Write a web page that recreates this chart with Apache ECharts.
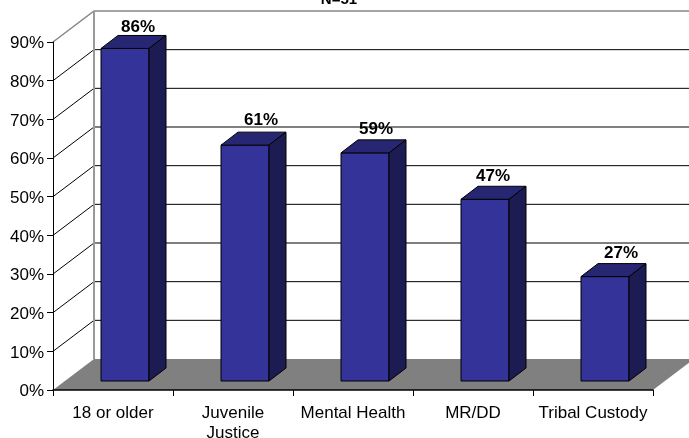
<!DOCTYPE html>
<html><head><meta charset="utf-8">
<style>html,body{margin:0;padding:0;background:#fff}#c{width:689px;height:438px}</style>
<script src="https://cdn.jsdelivr.net/npm/echarts@6/dist/echarts.min.js"></script>
</head><body><div id="c"></div>
<script>
const categories = ['18 or older', 'Juvenile\nJustice', 'Mental Health', 'MR/DD', 'Tribal Custody'];
const values = [86, 61, 59, 47, 27];
const tickValues = [0, 10, 20, 30, 40, 50, 60, 70, 80, 90];
const titleText = 'N=51';
// hand-placed data label nudges in the source chart, [dx, dy] px from the bar's front-top centre
const labelNudge = [[13, -30], [16, -34], [11, -33], [8, -32], [16, -32]];

const FONT = '"Liberation Sans", Arial, sans-serif';
const WALL = [41, -31];          // wall depth, px
const BAR_FRONT = [12, -9];      // bar front face, offset from the front plane
const BAR_DEPTH = [17, -13];     // bar depth
const BAR_RATIO = 0.4;

function poly(pts, style) {
  return { type: 'polygon', shape: { points: pts }, style };
}
function line(pts, stroke, w) {
  return { type: 'polyline', shape: { points: pts }, style: { stroke, lineWidth: w, fill: null } };
}

function renderWall(params, api) {
  const v = api.value(0);
  const band = api.size([1, 0])[0];
  const a = api.coord([0, v]);
  const b = api.coord([categories.length - 1, v]);
  const x0 = a[0] - band / 2, x1 = b[0] + band / 2, y = a[1];
  const children = [];
  const isTop = v === tickValues[tickValues.length - 1];
  const isFloor = v === 0;
  const color = isTop ? '#868686' : '#000';
  const w = isTop ? 1.5 : 1;
  if (isFloor) {
    children.push(poly([[x0, y], [x0 + WALL[0], y + WALL[1]], [x1 + WALL[0], y + WALL[1]], [x1, y]],
      { fill: '#808080', stroke: null }));
  } else {
    children.push(line([[x0, y], [x0 + WALL[0], y + WALL[1]], [x1 + WALL[0], y + WALL[1]]], color, w));
  }
  if (isTop) {
    const f = api.coord([0, 0]);
    children.push(line([[x0 + WALL[0], y + WALL[1]], [x0 + WALL[0], f[1] + WALL[1]]], '#999', 2));
  }
  return { type: 'group', children };
}

function renderBar(params, api) {
  const i = api.value(0), v = api.value(1);
  const band = api.size([1, 0])[0];
  const w = band * BAR_RATIO;
  const top = api.coord([i, v]), base = api.coord([i, 0]);
  const cx = top[0] + BAR_FRONT[0];
  const xl = cx - w / 2, xr = xl + w;
  const yt = top[1] + BAR_FRONT[1], yb = base[1] + BAR_FRONT[1];
  const dx = BAR_DEPTH[0], dy = BAR_DEPTH[1];
  const border = { stroke: '#000', lineWidth: 1, lineJoin: 'round' };
  const n = labelNudge[i];
  return { type: 'group', children: [
    poly([[xl, yt], [xl, yb], [xr, yb], [xr, yt]], { fill: '#333399', ...border }),
    poly([[xl, yt], [xl + dx, yt + dy], [xr + dx, yt + dy], [xr, yt]], { fill: '#262673', ...border }),
    poly([[xr, yt], [xr + dx, yt + dy], [xr + dx, yb + dy], [xr, yb]], { fill: '#1c1c52', ...border }),
    { type: 'text', style: { text: v + '%', x: cx + n[0], y: top[1] + n[1], align: 'center',
      verticalAlign: 'middle', fill: '#000', font: 'bold 17px ' + FONT } }
  ] };
}

const chart = echarts.init(document.getElementById('c'), null, { renderer: 'canvas' });
chart.setOption({
  animation: false,
  backgroundColor: '#fff',
  title: { text: titleText, left: 339, top: -7.5, textAlign: 'center', padding: 0,
    textStyle: { fontFamily: FONT, fontSize: 15, fontWeight: 'bold', color: '#000' } },
  grid: { left: 53, right: 36, top: 42, bottom: 48, outerBoundsMode: 'none', containLabel: false },
  xAxis: {
    type: 'category', data: categories, z: 5,
    axisLine: { lineStyle: { color: '#000', width: 1.5 } },
    axisTick: { show: true, length: 6, alignWithLabel: false, lineStyle: { color: '#000' } },
    axisLabel: { color: '#000', fontFamily: FONT, fontSize: 17, margin: 13, interval: 0, lineHeight: 20 }
  },
  yAxis: {
    type: 'value', min: 0, max: 90, interval: 10, z: 5,
    axisLine: { show: true, lineStyle: { color: '#000', width: 1 } },
    axisTick: { show: true, length: 6, lineStyle: { color: '#000' } },
    axisLabel: { margin: 9, formatter: '{t|{value}%}',
      rich: { t: { color: '#000', fontFamily: FONT, fontSize: 17, padding: [3, 0, 0, 0] } } },
    splitLine: { show: false }
  },
  series: [
    { type: 'custom', coordinateSystem: 'cartesian2d', z: 1, clip: false, silent: true,
      renderItem: renderWall, encode: { y: 0 }, data: tickValues.map(v => [v]) },
    { type: 'custom', coordinateSystem: 'cartesian2d', z: 2, clip: false, silent: true,
      renderItem: renderBar, encode: { x: 0, y: 1 }, data: values.map((v, i) => [i, v]) }
  ]
});
</script></body></html>
